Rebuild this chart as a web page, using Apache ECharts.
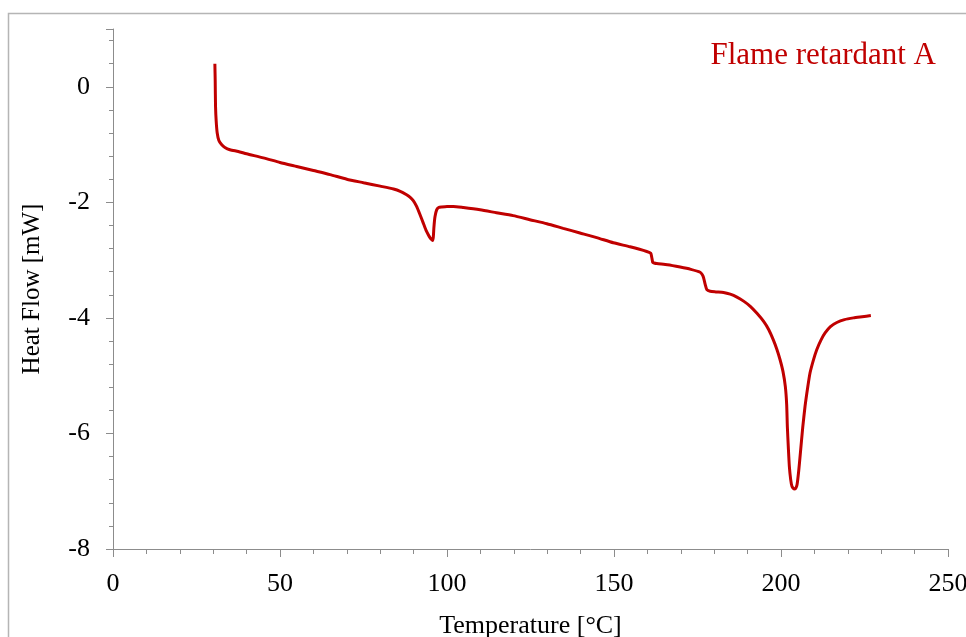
<!DOCTYPE html>
<html>
<head>
<meta charset="utf-8">
<script src="https://cdn.jsdelivr.net/npm/echarts@6/dist/echarts.min.js"></script>
<style>
  html, body { margin: 0; padding: 0; background: #ffffff; }
  #chart { width: 966px; height: 637px; }
</style>
</head>
<body>
<div id="chart"></div>
<script>
// DSC trace: temperature [°C] and heat flow [mW]
const temperature = [
  30.5, 30.6, 30.7, 30.9, 31.2, 31.7, 32.5, 33.5, 35.0, 37.5, 40, 45, 50, 55, 60, 65, 70, 75, 80,
  84, 86, 87.9, 88.9, 89.9, 90.9, 91.9, 92.9, 93.7, 94.4, 94.9, 95.3, 95.7, 95.9, 96.1, 96.4, 96.9,
  97.5, 98.4, 100, 101.9, 104.9, 109.9, 114.8, 119.8, 124.8, 129.9, 134.8, 139.8, 144.8, 149.8,
  154.8, 159.8, 161.0, 161.3, 161.6, 162.0, 162.8, 166, 169.8, 173, 175.8, 176.4, 176.8, 177.3,
  177.8, 178.8, 180.5, 182.8, 184.8, 186.8, 188.8, 190.8, 192.8, 194.8, 196.3, 197.7, 198.8,
  199.7, 200.6, 201.3, 201.7, 201.9, 202.2, 202.5, 202.9, 203.3, 203.9, 204.4, 204.8, 205.3,
  205.8, 206.5, 207.2, 208.0, 208.7, 209.7, 210.7, 212.0, 213.2, 214.8, 216.7, 219, 221.7, 224.3,
  226.9
];
const heatFlow = [
  0.40, 0.10, -0.34, -0.60, -0.80, -0.93, -1.00, -1.05, -1.09, -1.12, -1.16, -1.23, -1.31, -1.38,
  -1.45, -1.52, -1.60, -1.66, -1.72, -1.77, -1.81, -1.87, -1.91, -1.97, -2.07, -2.21, -2.36,
  -2.48, -2.56, -2.61, -2.64, -2.66, -2.60, -2.42, -2.25, -2.13, -2.09, -2.08, -2.07, -2.07,
  -2.09, -2.13, -2.18, -2.23, -2.30, -2.37, -2.45, -2.53, -2.61, -2.70, -2.77, -2.85, -2.88,
  -2.95, -3.04, -3.05, -3.06, -3.08, -3.12, -3.16, -3.21, -3.25, -3.30, -3.42, -3.51, -3.54,
  -3.55, -3.56, -3.59, -3.64, -3.71, -3.80, -3.92, -4.06, -4.20, -4.38, -4.55, -4.72, -4.93,
  -5.19, -5.50, -5.88, -6.25, -6.57, -6.80, -6.92, -6.96, -6.95, -6.89, -6.65, -6.34, -5.90,
  -5.53, -5.20, -4.95, -4.73, -4.55, -4.38, -4.26, -4.15, -4.08, -4.03, -4.00, -3.98, -3.96
];
const xTicks = [0, 50, 100, 150, 200, 250];
const yTicks = [-8, -6, -4, -2, 0];

const AXIS_GRAY = '#8c8c8c';
const TRACE_RED = '#c00000';
const FONT = 'Liberation Serif, Times New Roman, serif';

const chart = echarts.init(document.getElementById('chart'), null, { renderer: 'canvas' });

chart.setOption({
  animation: false,
  backgroundColor: '#ffffff',
  title: {
    text: 'Flame retardant A',
    right: 30,
    top: 40,
    padding: 0,
    textStyle: { color: TRACE_RED, fontFamily: FONT, fontSize: 31, fontWeight: 'normal' }
  },
  graphic: [{
    type: 'rect',
    shape: { x: 8.5, y: 13.5, width: 1000, height: 700 },
    style: { fill: 'none', stroke: '#b5b5b5', lineWidth: 1.5 },
    silent: true
  }],
  grid: { left: 113, right: 18, top: 29, bottom: 88, containLabel: false, outerBoundsMode: 'none' },
  xAxis: {
    type: 'value',
    min: xTicks[0],
    max: xTicks[xTicks.length - 1],
    interval: 50,
    name: 'Temperature [°C]',
    nameLocation: 'middle',
    nameGap: 64,
    nameTextStyle: { color: '#000000', fontFamily: FONT, fontSize: 26 },
    axisLine: { show: true, onZero: false, lineStyle: { color: AXIS_GRAY, width: 1 } },
    axisTick: { show: true, length: 8, lineStyle: { color: AXIS_GRAY } },
    minorTick: { show: true, splitNumber: 5, length: 5, lineStyle: { color: AXIS_GRAY } },
    splitLine: { show: false },
    axisLabel: { color: '#000000', fontFamily: FONT, fontSize: 26, margin: 22, hideOverlap: false }
  },
  yAxis: [{
    type: 'value',
    min: -8,
    max: 1,
    interval: 2,
    name: 'Heat Flow [mW]',
    nameLocation: 'middle',
    nameGap: 68,
    nameTextStyle: { color: '#000000', fontFamily: FONT, fontSize: 25 },
    axisLine: { show: true, onZero: false, lineStyle: { color: AXIS_GRAY, width: 1 } },
    axisTick: { show: true, length: 7, lineStyle: { color: AXIS_GRAY } },
    splitLine: { show: false },
    axisLabel: {
      color: '#000000', fontFamily: FONT, fontSize: 26, margin: 23,
      formatter: (v) => (yTicks.includes(v) ? String(v) : '')
    }
  }, {
    type: 'value',
    min: -8,
    max: 1,
    interval: 0.4,
    position: 'left',
    axisLine: { show: false, onZero: false },
    axisTick: { show: true, length: 4, lineStyle: { color: AXIS_GRAY } },
    splitLine: { show: false },
    axisLabel: { show: false }
  }],
  series: [{
    type: 'line',
    yAxisIndex: 0,
    data: temperature.map((t, i) => [t, heatFlow[i]]),
    showSymbol: false,
    smooth: 0.2,
    lineStyle: { color: TRACE_RED, width: 3 },
    itemStyle: { color: TRACE_RED }
  }]
});
</script>
</body>
</html>
